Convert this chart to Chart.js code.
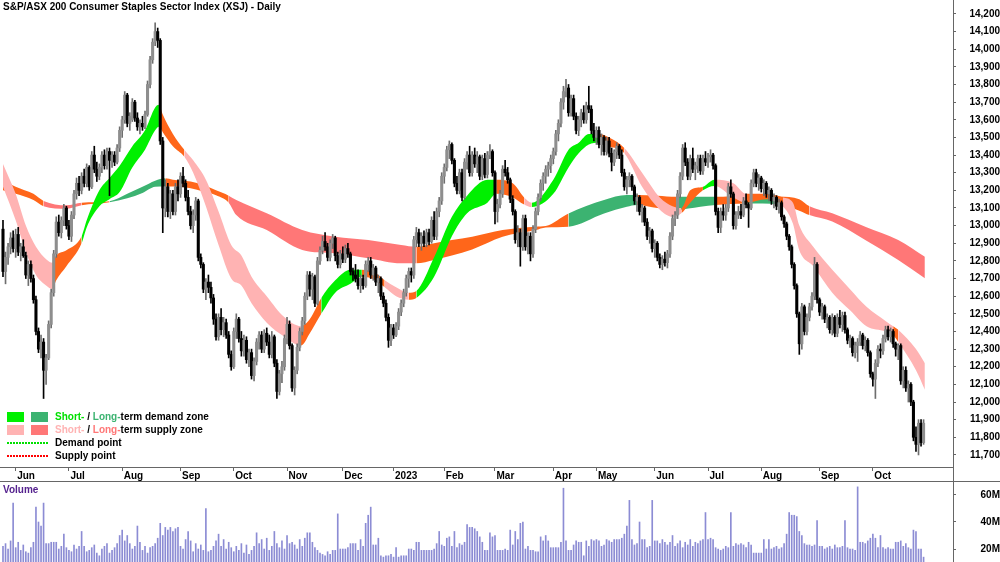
<!DOCTYPE html>
<html>
<head>
<meta charset="utf-8">
<script src="https://cdn.jsdelivr.net/npm/chart.js@4.4.1/dist/chart.umd.min.js"></script>
<style>
  body { margin: 0; background: #fff; }
  #wrap { position: relative; width: 1000px; height: 562px; overflow: hidden; background: #fff;
          font: bold 10px "Liberation Sans", Arial, sans-serif; color: #000; }
  canvas { position: absolute; left: 0; }
  .txt { position: absolute; line-height: 12px; white-space: nowrap; }
  .box { position: absolute; width: 17px; height: 10px; }
  .dots { position: absolute; left: 7px; width: 41px; height: 2px; }
  .hl { position: absolute; height: 1px; background: #666; }
  .vl { position: absolute; width: 1px; background: #666; }
</style>
</head>
<body>
<div id="wrap">
  <canvas id="priceChart" width="1000" height="482" style="top:0"></canvas>
  <canvas id="volChart" width="1000" height="80" style="top:482px"></canvas>

  <div class="txt" style="left:3px;top:1px">S&amp;P/ASX 200 Consumer Staples Sector Index (XSJ) - Daily</div>

  <div class="box" style="left:7px;top:412px;background:#00f000"></div>
  <div class="box" style="left:31px;top:412px;background:#3cb371"></div>
  <div class="txt" style="left:55px;top:411px"><span style="color:#00e000">Short-</span> / <span style="color:#3cb371">Long-</span>term demand zone</div>
  <div class="box" style="left:7px;top:425px;background:#ffb3b3"></div>
  <div class="box" style="left:31px;top:425px;background:#ff7777"></div>
  <div class="txt" style="left:55px;top:424px"><span style="color:#ffb3b3">Short-</span> / <span style="color:#ff7777">Long-</span>term supply zone</div>
  <div class="dots" style="top:442px;background:repeating-linear-gradient(90deg,#00e000 0 2px,transparent 2px 3px)"></div>
  <div class="txt" style="left:55px;top:437px">Demand point</div>
  <div class="dots" style="top:455px;background:repeating-linear-gradient(90deg,#ff0000 0 2px,transparent 2px 3px)"></div>
  <div class="txt" style="left:55px;top:450px">Supply point</div>

  <div class="txt" style="left:3px;top:484px;color:#55228e">Volume</div>

  <div class="hl" style="left:0;top:467px;width:953px"></div>
  <div class="hl" style="left:0;top:481px;width:1000px"></div>
  <div class="vl" style="left:953px;top:0;height:562px"></div>
</div>

<script>
// daily candles [open, high, low, close], 25 May 2022 - 30 Oct 2023
const ohlc = [
  [12980,13030,12710,12740],[12740,12850,12670,12820],[12820,12900,12780,12880],[12880,12960,12840,12930],[12930,12970,12850,12870],
  [12870,12980,12820,12950],[12950,12990,12830,12850],[12850,12900,12800,12880],[12880,12920,12820,12830],[12830,12850,12700,12720],
  [12720,12800,12660,12780],[12780,12800,12680,12700],[12700,12720,12560,12580],[12580,12600,12380,12400],[12400,12420,12280,12300],
  [12300,12380,12250,12340],[12340,12360,12020,12180],[12180,12270,12100,12250],[12250,12460,12240,12440],[12440,12640,12420,12620],
  [12620,12860,12600,12840],[12840,13050,12820,13020],[13020,13060,12940,12960],[12960,13050,12930,13030],[13030,13120,13000,13100],
  [13100,13110,12980,13000],[13000,13030,12920,12940],[12940,13080,12910,13060],[13060,13200,13040,13180],[13180,13270,13150,13240],
  [13240,13280,13170,13200],[13200,13300,13180,13280],[13280,13320,13220,13240],[13240,13350,13220,13330],[13330,13340,13200,13220],
  [13220,13420,13210,13400],[13400,13450,13300,13320],[13320,13360,13250,13280],[13280,13350,13260,13330],[13330,13420,13300,13400],
  [13400,13430,13320,13340],[13340,13440,13320,13420],[13420,13440,13170,13370],[13370,13420,13330,13400],[13400,13420,13340,13360],
  [13360,13460,13350,13440],[13440,13560,13420,13540],[13540,13620,13500,13600],[13600,13760,13580,13740],[13740,13750,13560,13580],
  [13580,13640,13540,13620],[13600,13720,13590,13700],[13700,13710,13590,13610],[13610,13640,13540,13560],[13560,13600,13520,13580],
  [13580,13620,13540,13560],[13560,13650,13550,13630],[13630,13820,13620,13800],[13800,13960,13780,13940],[13940,14060,13920,14040],
  [14040,14150,14020,14100],[14100,14120,14010,14050],[14050,14060,13460,13480],[13480,13500,12960,13100],[13100,13260,13050,13220],
  [13220,13240,13050,13080],[13080,13200,13040,13180],[13180,13200,13060,13080],[13080,13240,13060,13220],[13220,13260,13140,13180],
  [13180,13300,13160,13280],[13280,13330,13220,13240],[13240,13260,13140,13160],[13160,13200,13060,13080],[13080,13110,12980,13000],
  [13000,13090,12960,13060],[13060,13160,13030,13140],[13140,13150,12800,12820],[12820,12840,12760,12780],[12780,12790,12620,12640],
  [12640,12700,12580,12680],[12680,12720,12620,12650],[12650,12680,12560,12590],[12590,12610,12440,12470],[12470,12500,12350,12370],
  [12370,12500,12350,12480],[12480,12530,12380,12410],[12410,12480,12370,12450],[12450,12470,12360,12380],[12380,12400,12250,12270],
  [12270,12290,12180,12200],[12200,12420,12190,12400],[12400,12500,12360,12470],[12470,12480,12340,12360],[12360,12400,12260,12290],
  [12290,12380,12260,12350],[12350,12370,12220,12240],[12240,12300,12200,12280],[12280,12300,12130,12150],[12150,12250,12120,12230],
  [12230,12360,12210,12340],[12340,12400,12300,12380],[12380,12400,12280,12300],[12300,12410,12280,12390],[12390,12420,12320,12340],
  [12340,12380,12250,12270],[12270,12400,12250,12370],[12370,12380,12200,12220],[12220,12240,12020,12060],[12060,12180,12040,12160],
  [12160,12230,12110,12200],[12200,12380,12180,12360],[12360,12480,12330,12440],[12440,12460,12300,12320],[12320,12330,12060,12080],
  [12080,12200,12040,12180],[12180,12330,12160,12310],[12310,12420,12290,12400],[12400,12480,12380,12460],[12460,12620,12440,12600],
  [12600,12740,12580,12720],[12720,12740,12600,12640],[12640,12730,12580,12710],[12710,12720,12540,12560],[12560,12820,12550,12800],
  [12800,12880,12780,12860],[12860,12940,12840,12910],[12910,12960,12860,12880],[12880,12900,12800,12820],[12820,12920,12800,12900],
  [12900,12950,12870,12930],[12930,12940,12800,12830],[12830,12850,12760,12780],[12780,12860,12760,12840],[12840,12880,12790,12810],
  [12810,12890,12790,12870],[12870,12900,12820,12840],[12840,12850,12720,12740],[12740,12760,12690,12720],[12720,12780,12680,12700],
  [12700,12750,12640,12660],[12660,12720,12620,12700],[12700,12720,12640,12660],[12660,12800,12650,12780],[12780,12820,12740,12800],
  [12800,12820,12700,12720],[12720,12780,12690,12760],[12760,12770,12660,12680],[12680,12720,12620,12700],[12700,12710,12580,12600],
  [12600,12620,12540,12560],[12560,12580,12460,12480],[12480,12500,12310,12350],[12350,12440,12320,12420],[12420,12440,12360,12380],
  [12380,12450,12370,12430],[12430,12530,12410,12510],[12510,12580,12490,12560],[12560,12640,12540,12620],[12620,12720,12600,12700],
  [12700,12760,12650,12740],[12740,12760,12680,12720],[12720,12940,12700,12920],[12920,12990,12880,12960],[12960,12980,12880,12900],
  [12900,12960,12860,12940],[12940,12970,12880,12900],[12900,12980,12880,12960],[12960,12980,12890,12910],[12910,13050,12900,13030],
  [13030,13080,12920,12940],[12940,13100,12920,13080],[13080,13160,13050,13140],[13140,13300,13120,13280],[13280,13350,13240,13330],
  [13330,13450,13310,13430],[13430,13480,13380,13460],[13460,13470,13350,13370],[13370,13380,13220,13240],[13240,13280,13180,13200],
  [13200,13320,13180,13300],[13300,13320,13140,13160],[13160,13380,13150,13360],[13360,13420,13320,13400],[13400,13450,13280,13300],
  [13300,13420,13280,13400],[13400,13440,13330,13350],[13350,13420,13300,13390],[13390,13400,13260,13280],[13280,13400,13260,13380],
  [13380,13410,13270,13290],[13290,13420,13270,13400],[13400,13460,13380,13420],[13420,13430,13280,13300],[13300,13310,13010,13080],
  [13080,13150,13020,13120],[13120,13200,13100,13180],[13180,13340,13160,13320],[13320,13370,13280,13300],[13300,13330,13240,13260],
  [13260,13270,13130,13150],[13150,13170,13060,13080],[13080,13090,12900,12920],[12920,13000,12880,12960],[12960,12980,12770,12880],
  [12880,13060,12860,13040],[13040,13060,12860,12880],[12880,12960,12840,12940],[12940,12960,12800,12840],[12840,13000,12820,12980],
  [12980,13100,12960,13080],[13080,13180,13060,13160],[13160,13260,13140,13240],[13240,13300,13200,13280],[13280,13340,13240,13320],
  [13320,13360,13280,13340],[13340,13400,13300,13380],[13380,13440,13350,13420],[13420,13540,13400,13520],[13520,13600,13480,13580],
  [13580,13720,13560,13700],[13700,13790,13660,13760],[13760,13830,13730,13780],[13780,13800,13620,13640],[13640,13740,13620,13720],
  [13720,13740,13600,13620],[13620,13640,13520,13540],[13540,13620,13510,13600],[13600,13660,13560,13640],[13640,13680,13580,13600],
  [13600,13700,13580,13680],[13680,13790,13640,13660],[13660,13680,13520,13540],[13540,13580,13480,13500],[13500,13560,13460,13540],
  [13540,13560,13440,13460],[13460,13520,13400,13500],[13500,13510,13400,13420],[13420,13500,13400,13480],[13480,13500,13390,13410],
  [13410,13440,13310,13360],[13360,13430,13340,13420],[13420,13470,13380,13450],[13450,13460,13380,13400],[13400,13430,13280,13300],
  [13300,13320,13200,13220],[13220,13280,13180,13260],[13260,13300,13220,13280],[13280,13290,13200,13220],[13220,13230,13120,13140],
  [13140,13180,13080,13160],[13160,13170,13060,13080],[13080,13120,13020,13100],[13100,13110,13000,13020],[13020,13040,12920,12940],
  [12940,12990,12900,12970],[12970,12980,12850,12870],[12870,12920,12820,12900],[12900,12910,12800,12820],[12820,12840,12760,12780],
  [12780,12830,12750,12810],[12810,12850,12770,12790],[12790,12860,12760,12840],[12840,12960,12820,12940],[12940,13060,12920,13040],
  [13040,13080,13000,13060],[13060,13200,13040,13180],[13180,13300,13160,13280],[13280,13460,13260,13440],[13440,13470,13340,13360],
  [13360,13380,13260,13280],[13280,13400,13260,13380],[13380,13440,13300,13320],[13320,13360,13260,13340],[13340,13400,13300,13380],
  [13380,13400,13290,13310],[13310,13400,13290,13380],[13380,13420,13340,13360],[13360,13410,13330,13390],[13390,13430,13360,13400],
  [13400,13410,13320,13340],[13340,13350,13060,13080],[13080,13100,12960,12990],[12990,13100,12960,13080],[13080,13120,13030,13060],
  [13060,13120,13030,13100],[13100,13240,13080,13220],[13220,13260,13160,13180],[13180,13190,12980,13000],[13000,13080,12980,13060],
  [13060,13110,13040,13080],[13080,13120,13040,13060],[13060,13160,13050,13140],[13140,13180,13100,13120],[13120,13130,12990,13100],
  [13100,13260,13090,13240],[13240,13320,13220,13300],[13300,13320,13220,13240],[13240,13290,13200,13270],[13270,13280,13190,13210],
  [13210,13260,13170,13240],[13240,13250,13160,13180],[13180,13220,13140,13200],[13200,13210,13120,13140],[13140,13180,13100,13160],
  [13160,13170,13090,13110],[13110,13150,13070,13130],[13130,13140,13030,13050],[13050,13060,12990,13010],[13010,13020,12920,12940],
  [12940,12950,12860,12880],[12880,12890,12760,12780],[12780,12790,12640,12660],[12660,12670,12480,12500],[12500,12510,12270,12330],
  [12330,12560,12300,12540],[12540,12550,12380,12400],[12400,12500,12380,12480],[12480,12560,12460,12540],[12540,12620,12520,12600],
  [12600,12820,12580,12780],[12780,12790,12560,12580],[12580,12590,12490,12510],[12510,12560,12470,12540],[12540,12550,12450,12470],
  [12470,12500,12420,12480],[12480,12490,12390,12410],[12410,12500,12380,12480],[12480,12490,12370,12390],[12390,12500,12370,12480],
  [12480,12520,12420,12440],[12440,12510,12400,12490],[12490,12510,12390,12410],[12410,12420,12330,12350],[12350,12380,12310,12360],
  [12360,12370,12260,12280],[12280,12340,12250,12320],[12320,12360,12230,12340],[12340,12400,12320,12380],[12380,12390,12300,12320],
  [12320,12370,12290,12350],[12350,12360,12260,12280],[12280,12290,12140,12160],[12160,12170,12090,12130],[12130,12240,12020,12220],
  [12220,12320,12200,12300],[12300,12330,12250,12290],[12290,12380,12270,12360],[12360,12430,12340,12410],[12410,12430,12350,12370],
  [12370,12420,12340,12400],[12400,12410,12310,12330],[12330,12340,12260,12300],[12300,12330,12240,12320],[12320,12330,12100,12120],
  [12120,12200,12080,12180],[12180,12200,12060,12080],[12080,12120,12000,12100],[12100,12110,11980,12000],[12000,12010,11780,11800],
  [11800,11860,11720,11760],[11760,11900,11700,11880],[11880,11900,11750,11770],[11770,11900,11760,11880]
];

// daily volume, millions
const volumes = [
  22,24,20,26,54,21,25,19,23,18, 17,21,25,51,40,37,54,24,24,25, 25,25,20,22,31,21,19,18,23,20,
  22,33,22,18,19,21,23,17,15,20, 22,24,17,19,21,24,30,34,26,30, 24,20,22,37,25,19,22,17,21,22,
  24,28,39,30,36,34,36,33,35,36, 22,20,27,33,26,18,24,20,23,19, 50,18,19,22,26,31,22,27,20,25,
  21,18,22,19,24,17,23,16,19,22, 32,24,27,20,28,19,22,33,24,21, 26,20,30,24,25,23,20,27,22,28,
  32,32,25,21,19,17,16,15,18,16, 19,19,46,20,20,20,21,24,24,24, 19,27,22,39,45,51,23,23,28,15,
  14,15,15,16,14,21,14,15,15,15, 20,20,19,25,25,19,19,19,19,19, 20,24,33,23,22,28,29,22,33,21,
  24,23,25,38,36,36,35,33,29,25, 19,19,32,29,30,19,19,19,20,19, 34,23,33,27,39,40,20,22,19,19,
  18,18,29,26,30,26,21,21,21,21, 25,65,26,19,19,23,26,25,25,15, 26,22,27,26,27,26,22,23,27,26,
  25,27,27,27,28,31,37,56,27,23, 24,40,27,27,21,22,56,26,26,24, 27,25,23,25,30,22,24,26,21,25,
  23,27,22,25,24,26,27,47,27,28, 27,21,20,19,20,22,21,47,22,24, 23,24,23,21,25,23,17,17,17,17,
  27,20,27,20,21,22,20,21,24,31, 47,45,45,44,33,30,24,23,23,22, 23,41,22,22,20,21,22,20,23,21,
  21,22,41,21,20,20,19,66,25,25, 24,26,28,31,28,21,30,21,20,21, 20,20,25,25,26,22,24,21,20,34,
  33,20,20,14
];

// short-term band (upper / lower edge), sampled at day positions; zone per segment
const shortIdx = [0,5,9,13,17,19.5,21,25,31,33,38,42,46,51,56,60,61.5,63,67,71.5,75,80,85,90,94,98,104,111,117.5,121,
  125.5,131,137,141.5,147,150.5,155,160,163,170,177,183,191,194.5,201,205.5,208.5,217,223,227,231,235,239,245,252,259,264,267.5,271,276,
  280.5,288,293,301,307.5,311.5,314,319.5,327,334,340.5,348,351,353,360,363.5];
const shortHi = [13350,13180,13000,12880,12810,12790,12830,12860,12940,13030,13200,13270,13340,13450,13540,13670,13685,13630,13520,13430,
  13370,13260,13080,12890,12830,12710,12600,12480,12430,12470,12590,12690,12750,12750,12730,12690,12650,12620,12630,12820,
  13050,13170,13260,13260,13240,13160,13130,13260,13430,13470,13520,13520,13500,13440,13300,13160,13110,13100,13200,13220,
  13260,13240,13180,13180,13160,13130,13000,12880,12750,12640,12540,12460,12430,12410,12300,12220];
const shortLo = [13220,13030,12850,12720,12660,12640,12690,12770,12900,12990,13110,13150,13190,13330,13430,13540,13560,13530,13450,13390,
  13300,13110,12890,12700,12660,12560,12450,12370,12320,12390,12500,12620,12670,12710,12690,12650,12600,12580,12590,12710,
  12940,13070,13130,13180,13160,13120,13105,13180,13330,13410,13460,13470,13450,13410,13220,13090,13050,13070,13130,13200,
  13225,13160,13130,13150,13110,13010,12860,12770,12620,12520,12430,12400,12380,12340,12180,12070];
const shortZone = 'PPPPPOOOGGGGGGGGOOOPPPPPPPPPOOGGGOOPPOGGGGGOOPGGGGGOOPPPPOOGPPOOPPPPPPPPOPPP';

// long-term band
const longIdx = [0,5,12,16,25,31,42,49,55,60,64,67,74,79,84,89,92,104,118,131,144,157,163,170,177,185,197,210,214,223,
  237,246,250,258,265.5,275,281,293,306,314,318,327,340,353,363.5];
const longHi = [13260,13220,13180,13140,13115,13130,13138,13180,13220,13255,13268,13260,13250,13230,13200,13170,13145,13070,12975,12937,
  12918,12890,12880,12900,12918,12937,12975,12994,12998,13069,13145,13173,13173,13170,13164,13164,13164,13170,13165,13150,
  13110,13070,12994,12919,12824];
const longLo = [13200,13180,13145,13110,13095,13115,13132,13155,13185,13220,13222,13222,13212,13193,13172,13130,13060,12975,12862,12843,
  12815,12786,12786,12805,12830,12865,12937,12975,12990,12994,13069,13107,13117,13100,13090,13107,13117,13125,13120,13085,
  13060,13023,12919,12805,12702];
const longZone = 'OOOSSODDDDOOOOOSSSSSSSOOOOOOODDDOODDODOOSSSSS';

const priceTicks = [11700,11800,11900,12000,12100,12200,12300,12400,12500,12600,12700,12800,12900,13000,
  13100,13200,13300,13400,13500,13600,13700,13800,13900,14000,14100,14200];
const volTicks = [20, 40, 60];
const monthIdx = [5,26,47,70,91,112,134,154,174,194,217,234,257,278,299,322,343];
const monthLabels = ['Jun','Jul','Aug','Sep','Oct','Nov','Dec','2023','Feb','Mar','Apr','May','Jun','Jul','Aug','Sep','Oct'];

const zoneColors = { G: '#00f000', D: '#3cb371', P: '#ffb3b3', S: '#ff7777', O: '#ff661a' };

Chart.defaults.font.family = '"Liberation Sans", Arial, sans-serif';
Chart.defaults.font.size = 10;
Chart.defaults.font.weight = 'bold';
Chart.defaults.color = '#000';
Chart.defaults.animation = false;

const X_MIN = -1.18, X_MAX = 374.6;

function noPad(scale) {
  scale.paddingTop = 0; scale.paddingBottom = 0; scale.paddingLeft = 0; scale.paddingRight = 0;
}

function bandSets(idx, hi, lo, zones, order) {
  const common = { type: 'line', borderWidth: 0, borderColor: 'transparent', pointRadius: 0,
                   cubicInterpolationMode: 'monotone', order };
  return [
    { ...common, data: idx.map((x, k) => ({ x, y: hi[k] })), fill: false },
    { ...common, data: idx.map((x, k) => ({ x, y: lo[k] })), fill: '-1',
      backgroundColor: zoneColors[zones[0]],
      segment: { backgroundColor: c => zoneColors[zones[c.p0DataIndex]] } }
  ];
}

const isUp = c => c[3] >= c[0];

new Chart(document.getElementById('priceChart'), {
  type: 'bar',
  data: {
    datasets: [
      ...bandSets(shortIdx, shortHi, shortLo, shortZone, 5),
      ...bandSets(longIdx, longHi, longLo, longZone, 6),
      {
        data: ohlc.map((c, i) => ({ x: i, y: [c[2], c[1]] })),
        backgroundColor: ohlc.map(c => isUp(c) ? '#6e6e6e' : '#000'),
        barThickness: 1, grouped: false, order: 1
      },
      {
        data: ohlc.map((c, i) => ({ x: i, y: [c[0], c[3]] })),
        backgroundColor: ohlc.map(c => isUp(c) ? '#8e8e8e' : '#000'),
        barThickness: 2.4, minBarLength: 1, grouped: false, order: 0
      }
    ]
  },
  options: {
    responsive: false,
    devicePixelRatio: 1,
    layout: { padding: 0, autoPadding: false },
    plugins: { legend: { display: false }, tooltip: { enabled: false } },
    scales: {
      x: {
        type: 'linear', min: X_MIN, max: X_MAX, offset: false,
        grid: { drawOnChartArea: false, tickLength: 3, color: '#666', offset: false },
        border: { display: false },
        afterBuildTicks: s => { s.ticks = monthIdx.map(v => ({ value: v })); },
        afterFit: s => { s.height = 14; noPad(s); },
        ticks: { autoSkip: false, maxRotation: 0, align: 'start', labelOffset: 1.5, padding: 0,
                 font: { lineHeight: 1 }, callback: (v, i) => monthLabels[i] }
      },
      y: {
        position: 'right', min: 11626, max: 14279,
        grid: { drawOnChartArea: false, tickLength: 3, color: '#666' },
        border: { display: false },
        afterBuildTicks: s => { s.ticks = priceTicks.map(v => ({ value: v })); },
        afterFit: s => { s.width = 47; noPad(s); },
        ticks: { crossAlign: 'far', padding: 11, callback: v => v.toLocaleString('en-US') }
      }
    }
  }
});

new Chart(document.getElementById('volChart'), {
  type: 'bar',
  data: {
    datasets: [{
      data: volumes.map((v, i) => ({ x: i, y: v })),
      backgroundColor: '#8c8cd4',
      barThickness: 1
    }]
  },
  options: {
    responsive: false,
    devicePixelRatio: 1,
    layout: { padding: 0, autoPadding: false },
    plugins: { legend: { display: false }, tooltip: { enabled: false } },
    scales: {
      x: { type: 'linear', display: false, min: X_MIN, max: X_MAX, offset: false },
      y: {
        position: 'right', min: 10.4, max: 69.6,
        grid: { drawOnChartArea: false, tickLength: 3, color: '#666' },
        border: { display: false },
        afterBuildTicks: s => { s.ticks = volTicks.map(v => ({ value: v })); },
        afterFit: s => { s.width = 47; noPad(s); },
        ticks: { crossAlign: 'far', padding: 22, callback: v => v + 'M' }
      }
    }
  }
});
</script>
</body>
</html>
